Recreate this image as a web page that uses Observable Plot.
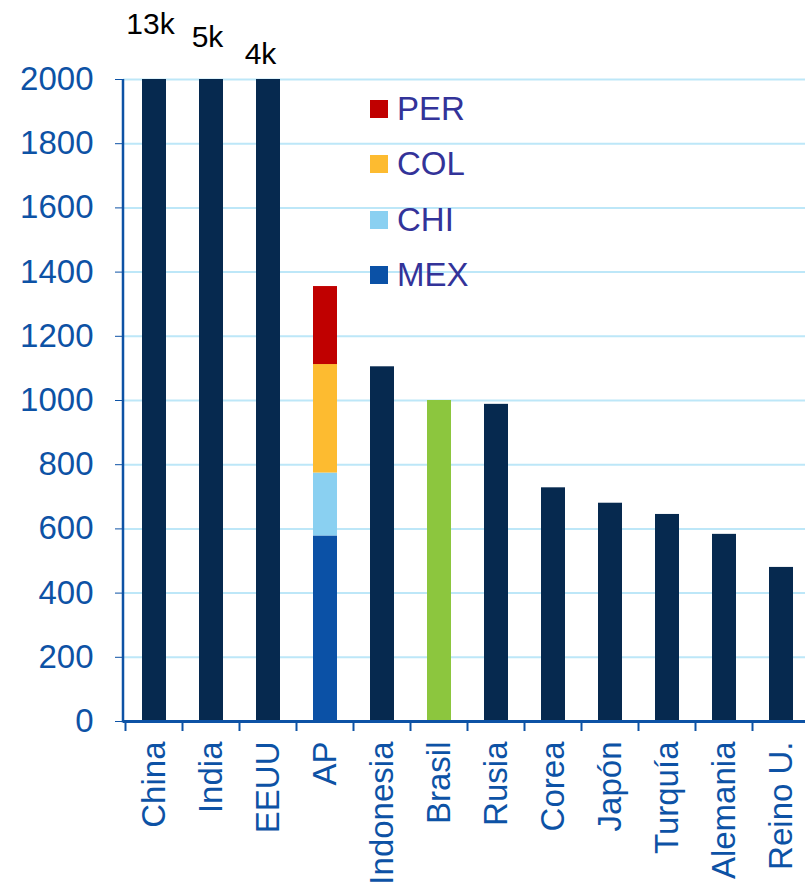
<!DOCTYPE html>
<html><head><meta charset="utf-8">
<script src="https://cdn.jsdelivr.net/npm/d3@7"></script>
<script src="https://cdn.jsdelivr.net/npm/@observablehq/plot@0.6"></script>
<style>
body{margin:0;background:#fff;font-family:"Liberation Sans",Arial,sans-serif}
#wrap{position:relative;width:805px;height:887px;overflow:hidden}
.legend{position:absolute;left:370px;top:100px}
.item{position:absolute;left:0;height:18px;display:flex;align-items:center;white-space:nowrap}
.sw{width:18px;height:18px;margin-right:9px;flex:none}
.item span{font-size:33px;color:#333399;line-height:18px}
</style></head><body><div id="wrap"></div>
<script>
const countries = ["China","India","EEUU","AP","Indonesia","Brasil","Rusia","Corea","Japón","Turquía","Alemania","Reino U."];
const totals = [13000,5000,4000,null,1105,1000,988,728,680,645,583,480];
const apParts = ["MEX","CHI","COL","PER"];
const apValues = [578,196,338,243];
const partColors = ["#0b51a6","#8ad0f1","#fdbb30","#c00000"];
const yTicks = [0,200,400,600,800,1000,1200,1400,1600,1800,2000];
const navy = "#06294f", green = "#8cc63e", axisBlue = "#0d52a5";

const rows = [];
countries.forEach((c,i)=>{
  if (c === "AP") apParts.forEach((p,j)=>rows.push({country:c, part:p, value:apValues[j], color:partColors[j]}));
  else rows.push({country:c, part:"total", value:totals[i], color: c==="Brasil" ? green : navy});
});
const clipped = countries.map((c,i)=>({country:c, value:totals[i]})).filter(d=>d.value>2000);
const labelDy = [-46,-33,-16], labelDx = [-4,-4,-8];

const chart = Plot.plot({
  width:805, height:887,
  marginLeft:123, marginTop:79, marginBottom:166, marginRight:0,
  style:{fontFamily:'"Liberation Sans",Arial,sans-serif', fontSize:"33px", color:axisBlue, background:"white", overflow:"visible"},
  x:{domain:countries, range:[123,811], paddingInner:0.58, paddingOuter:0.29, tickRotate:-90, tickSize:0, tickPadding:20, label:null},
  y:{domain:[0,2000], clamp:true, ticks:yTicks, tickSize:8, tickPadding:22, tickFormat:d=>String(d), label:null},
  marks:[
    Plot.ruleY(yTicks.filter(d=>d>0), {stroke:"#bde7f8", strokeWidth:2}),
    Plot.barY(rows, {x:"country", y:"value", fill:"color"}),
    Plot.ruleY([0], {stroke:axisBlue, strokeWidth:3}),
    ...clipped.map((d,i)=>Plot.text([d], {x:"country", y:"value", text:v=>Math.round(v.value/1000)+"k", fill:"black", fontSize:30, lineAnchor:"bottom", dy:labelDy[i], dx:labelDx[i]}))
  ]
});
document.getElementById("wrap").appendChild(chart);

// axis line on left and category boundary ticks, computed from the scales
const xs = chart.scale("x"), ys = chart.scale("y");
const svg = d3.select(chart);
const y0 = ys.apply(0), yTop = ys.apply(2000);
svg.append("line").attr("x1",123).attr("x2",123).attr("y1",yTop).attr("y2",y0+1.5).attr("stroke",axisBlue).attr("stroke-width",2.5);
const gap = (xs.step - xs.bandwidth)/2;
countries.forEach(c=>{
  const bx = xs.apply(c) - gap;
  svg.append("line").attr("x1",bx).attr("x2",bx).attr("y1",y0).attr("y2",y0+10).attr("stroke",axisBlue).attr("stroke-width",2);
});

// legend (top to bottom: PER, COL, CHI, MEX)
const leg = document.createElement("div"); leg.className = "legend";
[...apParts].reverse().forEach((p,k)=>{
  const j = apParts.indexOf(p);
  const it = document.createElement("div"); it.className="item"; it.style.top = (k*55.3)+"px";
  it.innerHTML = `<div class="sw" style="background:${partColors[j]}"></div><span>${p}</span>`;
  leg.appendChild(it);
});
document.getElementById("wrap").appendChild(leg);
</script></body></html>
